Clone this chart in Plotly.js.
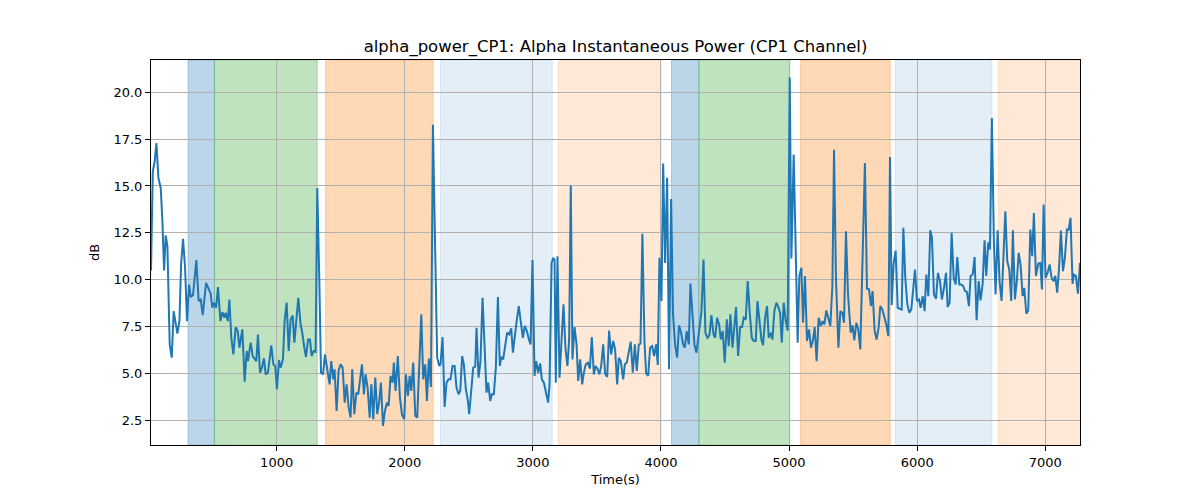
<!DOCTYPE html>
<html>
<head>
<meta charset="utf-8">
<script src="https://cdn.plot.ly/plotly-3.0.1.min.js"></script>
<style>
    html, body { margin: 0; padding: 0; background: #fff; }
    #chart { width: 1200px; height: 500px; }
</style>
</head>
<body>
<div id="chart"></div>
<script>
var timeSec = [
    19, 33, 48, 61, 77, 95, 108, 121, 134, 147, 165, 181, 196, 212, 225, 241, 254, 269, 285, 300,
    316, 329, 347, 373, 391, 407, 423, 449, 469, 485, 498, 511, 527, 542, 561, 576, 592, 602, 618, 631,
    646, 662, 680, 696, 709, 732, 750, 766, 776, 797, 813, 828, 841, 854, 870, 885, 901, 914, 932, 958,
    974, 989, 1002, 1018, 1031, 1049, 1062, 1078, 1094, 1109, 1125, 1138, 1153, 1169, 1187, 1200, 1216, 1229, 1245, 1260,
    1273, 1289, 1304, 1317, 1333, 1346, 1362, 1377, 1395, 1413, 1426, 1442, 1452, 1468, 1483,
    1499, 1515, 1531, 1546, 1562, 1577, 1590, 1606, 1622, 1637, 1653, 1666, 1681, 1694, 1710, 1726, 1739, 1754, 1770, 1785,
    1801, 1814, 1830, 1845, 1861, 1874, 1889, 1905, 1915, 1928, 1946, 1962, 1978, 1996, 2009, 2025, 2038, 2051, 2066, 2082,
    2097, 2113, 2129, 2144, 2160, 2173, 2188, 2204, 2220, 2230, 2243, 2253, 2269, 2279, 2295, 2311, 2326, 2342, 2357, 2373,
    2389, 2404, 2420, 2433, 2448, 2461, 2477, 2493, 2503, 2519, 2534, 2550, 2560, 2576, 2591, 2607, 2623, 2638, 2651, 2667,
    2680, 2695, 2711, 2727, 2742, 2753, 2768, 2784, 2799, 2815, 2831, 2844, 2859, 2875, 2890,
    2906, 2922, 2937, 2953, 2969, 2982, 2997, 3013, 3026, 3042, 3057, 3070, 3086, 3101, 3119, 3130, 3146, 3158, 3169, 3179,
    3192, 3208, 3223, 3239, 3255, 3270, 3283, 3296, 3309, 3325, 3341, 3354, 3369, 3385, 3398, 3413, 3429, 3445, 3460, 3476,
    3489, 3504, 3520, 3533, 3549, 3564, 3580, 3595, 3611, 3627, 3642, 3658, 3671, 3686, 3705, 3718, 3733, 3749, 3764, 3780,
    3796, 3811, 3827, 3840, 3855, 3871, 3884, 3900, 3915, 3931, 3946, 3962, 3975, 3988, 4004, 4017, 4032, 4048, 4063, 4079,
    4094, 4110, 4126, 4141, 4157, 4173, 4186, 4201, 4217, 4230, 4245, 4261, 4277, 4292,
    4316, 4332, 4347, 4363, 4378, 4394, 4410, 4423, 4438, 4454, 4467, 4482, 4498, 4514, 4529, 4542, 4558, 4573, 4586, 4602,
    4618, 4633, 4646, 4662, 4677, 4693, 4709, 4724, 4740, 4753, 4768, 4784, 4797, 4813, 4828, 4841, 4857, 4870, 4885, 4901,
    4914, 4930, 4943, 4958, 4974, 4989, 5005, 5018, 5036, 5052, 5067, 5080, 5096, 5109, 5124, 5140, 5156, 5171, 5187, 5200,
    5215, 5231, 5247, 5262, 5275, 5291, 5306, 5322, 5338, 5351, 5366, 5385, 5400, 5416, 5429, 5444, 5460, 5481, 5496, 5509,
    5525, 5540, 5556, 5592, 5608, 5624, 5639, 5652, 5668, 5683, 5699,
    5712, 5728, 5744, 5759, 5775, 5788, 5801, 5816, 5832, 5848, 5863, 5879, 5892, 5907, 5923, 5939, 5954, 5970, 5983, 5998,
    6014, 6027, 6043, 6058, 6071, 6087, 6102, 6115, 6131, 6147, 6162, 6178, 6193, 6209, 6225, 6238, 6253, 6269, 6285, 6300,
    6313, 6329, 6344, 6360, 6373, 6388, 6404, 6417, 6433, 6448, 6464, 6480, 6495, 6511, 6526, 6539, 6555, 6568, 6583, 6599,
    6612, 6628, 6643, 6659, 6675, 6688, 6703, 6719, 6734, 6747, 6763, 6779, 6792, 6807, 6823, 6836, 6852, 6867, 6883, 6898,
    6911, 6927, 6945, 6961, 6974, 6987, 7002, 7018, 7034, 7049, 7065, 7078, 7093, 7106, 7122, 7138, 7153, 7169, 7182, 7197,
    7213, 7223, 7239, 7255, 7271
];

var alphaDb = [
    10.5, 15.78, 16.31, 17.29, 15.43, 14.89, 13.12, 10.50, 12.36, 11.79, 6.56, 5.85, 8.33, 7.62, 7.13, 7.80, 10.82, 12.18, 10.64, 7.80,
    9.75, 9.08, 9.19, 11.05, 8.87, 8.95, 8.12, 9.84, 9.49, 9.26, 8.51, 8.78, 8.51, 9.61, 7.80, 8.28, 7.98, 8.24, 7.80, 8.95,
    6.91, 6.03, 7.48, 7.27, 6.38, 7.36, 4.57, 6.21, 5.67, 6.65, 5.94, 5.76, 5.67, 7.09, 5.05, 5.32, 5.82, 4.96, 5.05, 6.51,
    5.50, 5.41, 4.17, 5.73, 5.32, 5.76, 7.80, 8.78, 6.21, 7.89, 8.10, 6.65, 7.98, 9.04, 7.62, 7.18, 6.38, 5.89, 6.82, 6.82,
    5.94, 6.21, 6.17, 14.89, 9.93, 5.05, 4.96, 6.03, 5.23, 4.43, 5.67, 4.70, 5.23, 3.01, 5.14,
    5.50, 5.32, 3.46, 4.43, 3.19, 2.66, 5.23, 2.84, 3.99, 3.90, 4.96, 5.50, 3.90, 4.96, 4.25, 2.66, 4.43, 2.57, 4.79, 2.84,
    3.55, 4.52, 2.22, 3.01, 3.46, 3.28, 4.88, 4.52, 5.59, 4.08, 5.94, 3.72, 2.84, 2.57, 4.96, 3.81, 4.88, 4.08, 5.59, 2.75,
    2.66, 5.23, 8.16, 4.70, 5.50, 3.55, 5.80, 4.29, 18.26, 14.36, 10.46, 5.85, 5.41, 5.50, 6.95, 3.23, 4.52, 4.70, 4.70, 5.41,
    5.41, 4.25, 3.90, 4.08, 5.94, 5.50, 4.17, 3.55, 2.84, 4.08, 5.32, 5.37, 7.45, 4.79, 5.67, 9.04, 6.03, 3.99, 4.52, 3.55,
    3.90, 3.90, 5.32, 9.08, 5.41, 5.89, 5.76, 6.56, 7.18, 7.09, 7.41, 6.12, 7.09, 7.89, 8.60,
    7.80, 6.91, 7.54, 7.27, 6.82, 6.56, 11.05, 4.88, 5.67, 5.05, 5.55, 4.70, 4.52, 4.08, 3.46, 4.43, 10.90, 11.14, 11.08, 4.52,
    11.26, 4.79, 6.91, 8.69, 6.29, 5.41, 6.82, 15.02, 5.76, 7.48, 6.56, 4.61, 5.76, 4.43, 5.05, 5.50, 5.59, 5.27, 6.95, 4.96,
    5.41, 5.27, 4.96, 5.41, 6.56, 5.00, 4.82, 7.30, 6.03, 6.74, 6.29, 4.43, 5.85, 5.67, 4.70, 5.50, 5.59, 6.29, 6.70, 5.05,
    6.56, 5.14, 6.56, 6.60, 12.45, 6.74, 5.02, 4.88, 6.38, 6.47, 5.94, 6.56, 5.46, 11.17, 8.87, 16.20, 10.90, 15.43, 5.23, 14.31,
    8.16, 6.56, 5.85, 7.57, 7.18, 6.56, 6.38, 7.27, 6.56, 9.80, 7.89, 6.56, 6.12, 7.09,
    8.33, 11.08, 7.18, 6.91, 7.04, 8.12, 7.09, 6.91, 7.98, 7.62, 6.82, 7.27, 5.59, 7.89, 6.47, 8.16, 6.38, 7.54, 8.55, 5.94,
    7.48, 7.48, 7.98, 7.89, 9.93, 8.24, 6.91, 6.74, 6.74, 8.87, 7.80, 6.82, 6.52, 7.98, 8.60, 6.91, 7.18, 6.82, 8.33, 8.78,
    8.60, 8.24, 6.65, 8.78, 7.80, 7.30, 20.78, 11.14, 16.67, 12.06, 6.65, 10.20, 10.64, 7.71, 10.20, 6.74, 7.36, 6.38, 6.82, 7.48,
    5.67, 7.98, 7.54, 7.80, 7.62, 8.37, 7.98, 7.54, 9.70, 16.93, 10.11, 6.38, 8.33, 8.24, 7.71, 12.59, 9.22, 7.18, 7.57, 6.77,
    7.71, 7.36, 6.29, 16.22, 9.52, 9.49, 8.60, 9.40, 7.27, 6.82, 7.45,
    8.60, 8.42, 7.98, 7.62, 7.00, 16.54, 8.65, 10.85, 11.56, 8.51, 8.46, 8.42, 12.77, 10.11, 8.69, 8.24, 8.42, 9.40, 10.55, 8.87,
    8.95, 8.51, 9.13, 8.33, 10.28, 9.13, 12.64, 12.27, 9.22, 8.99, 10.37, 9.93, 8.95, 9.57, 10.37, 8.56, 8.78, 12.50, 10.11, 9.75,
    11.21, 9.75, 9.75, 9.66, 9.40, 9.36, 8.60, 10.20, 10.28, 11.21, 7.85, 9.93, 8.90, 9.79, 12.11, 10.20, 12.00, 11.61, 18.62, 11.97,
    9.22, 12.64, 9.93, 8.87, 11.70, 13.65, 11.00, 10.55, 8.87, 12.64, 8.95, 10.02, 11.44, 10.82, 9.13, 9.57, 8.19, 8.37, 12.68, 11.26,
    13.56, 10.20, 10.87, 10.90, 9.49, 14.01, 10.11, 10.37, 10.82, 10.11, 9.93, 10.21, 9.31, 10.46, 12.62, 10.46, 11.17, 12.68, 12.66, 13.30,
    9.79, 10.28, 10.20, 9.26, 10.90
];

// shaded phases
var spanStart = [308, 514, 1382, 2279, 3200, 4082, 4296, 5088, 5829, 6633];
var spanEnd = [514, 1317, 2222, 3151, 4001, 4296, 5005, 5790, 6583, 7275];
var spanColor = [
    'rgba(31,119,180,0.3)', 'rgba(44,160,44,0.3)', 'rgba(255,127,14,0.3)', 'rgba(31,119,180,0.12)', 'rgba(255,127,14,0.17)',
    'rgba(31,119,180,0.3)', 'rgba(44,160,44,0.3)', 'rgba(255,127,14,0.3)', 'rgba(31,119,180,0.12)', 'rgba(255,127,14,0.17)'
];

var xTicks = [1000, 2000, 3000, 4000, 5000, 6000, 7000];
var yTicks = [2.5, 5.0, 7.5, 10.0, 12.5, 15.0, 17.5, 20.0];

(function () {
    "use strict";

    var font = 'DejaVu Sans, sans-serif';

    var shapes = spanStart.map(function (s, i) {
        return {
            type: 'rect',
            xref: 'x',
            yref: 'paper',
            x0: s,
            x1: spanEnd[i],
            y0: 0,
            y1: 1,
            fillcolor: spanColor[i],
            line: { color: spanColor[i], width: 1 },
            layer: 'below'
        };
    });

    var trace = {
        x: timeSec,
        y: alphaDb,
        type: 'scatter',
        mode: 'lines',
        line: { color: '#1f77b4', width: 2 },
        hoverinfo: 'x+y'
    };

    var axisCommon = {
        showgrid: true,
        gridcolor: '#b0b0b0',
        gridwidth: 1,
        zeroline: false,
        showline: true,
        linecolor: '#000',
        linewidth: 1,
        mirror: true,
        ticks: 'outside',
        ticklen: 5,
        tickwidth: 1,
        tickcolor: '#000',
        tickfont: { family: font, size: 13, color: '#000' }
    };

    var layout = {
        width: 1200,
        height: 500,
        paper_bgcolor: '#fff',
        plot_bgcolor: '#fff',
        showlegend: false,
        margin: { l: 151, r: 120, t: 60, b: 55 },
        title: {
            text: 'alpha_power_CP1: Alpha Instantaneous Power (CP1 Channel)',
            font: { family: font, size: 16.5, color: '#000' },
            xref: 'paper',
            x: 0.5,
            xanchor: 'center',
            yref: 'container',
            y: 0.908,
            yanchor: 'middle'
        },
        xaxis: Object.assign({}, axisCommon, {
            range: [19, 7271],
            tickmode: 'array',
            tickvals: xTicks,
            ticktext: xTicks.map(String),
            title: { text: 'Time(s)', font: { family: font, size: 13, color: '#000' }, standoff: 6 }
        }),
        yaxis: Object.assign({}, axisCommon, {
            range: [1.2, 21.71],
            tickmode: 'array',
            tickvals: yTicks,
            ticktext: yTicks.map(function (v) { return v.toFixed(1); }),
            title: { text: 'dB', font: { family: font, size: 13, color: '#000' }, standoff: 10 }
        }),
        shapes: shapes
    };

    Plotly.newPlot('chart', [trace], layout, { displayModeBar: false, staticPlot: true });
})();
</script>
</body>
</html>
